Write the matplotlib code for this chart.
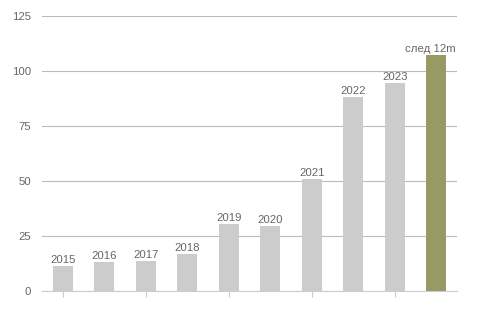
import matplotlib.pyplot as plt
import numpy as np

# Data
labels = ['2015', '2016', '2017', '2018', '2019', '2020', '2021', '2022', '2023', 'след 12m']
values = [11.5, 13.3, 13.8, 17.0, 30.5, 29.5, 51.0, 88.2, 94.5, 107.3]
colors = ['#cccccc'] * 9 + ['#999966']
y_ticks = [0, 25, 50, 75, 100, 125]

plt.rcParams['font.family'] = ['Liberation Sans', 'DejaVu Sans']

fig = plt.figure(figsize=(4.83, 3.19), dpi=100)
ax = fig.add_axes([42 / 483, 1 - 291 / 319, 415 / 483, 275 / 319])

x = np.arange(len(values))
bars = ax.bar(x, values, width=0.48, color=colors, zorder=2)

# year labels above bars (last one nudged left like the original)
for i, (xi, v, lab) in enumerate(zip(x, values, labels)):
    dx = -4 if i == len(values) - 1 else 0
    ax.annotate(lab, (xi, v), xytext=(dx, 0.5), textcoords='offset points',
                ha='center', va='bottom', fontsize=8.2, color='#666666')

ax.set_xlim(-0.5, len(values) - 0.5)
ax.set_ylim(0, 125)
ax.set_yticks(y_ticks)
ax.set_yticklabels([str(t) for t in y_ticks], fontsize=8.2, color='#666666')
ax.yaxis.grid(True, color='#bbbbbb', linewidth=0.8, zorder=0)
ax.tick_params(axis='y', length=0, pad=8)

# small ticks below axis on every other bar
ax.set_xticks(x[::2])
ax.set_xticklabels([])
ax.tick_params(axis='x', length=4, color='#cccccc', width=0.8)

for s in ['top', 'right', 'left']:
    ax.spines[s].set_visible(False)
ax.spines['bottom'].set_color('#cccccc')
ax.spines['bottom'].set_linewidth(0.8)

fig.savefig('out.png', dpi=100)
